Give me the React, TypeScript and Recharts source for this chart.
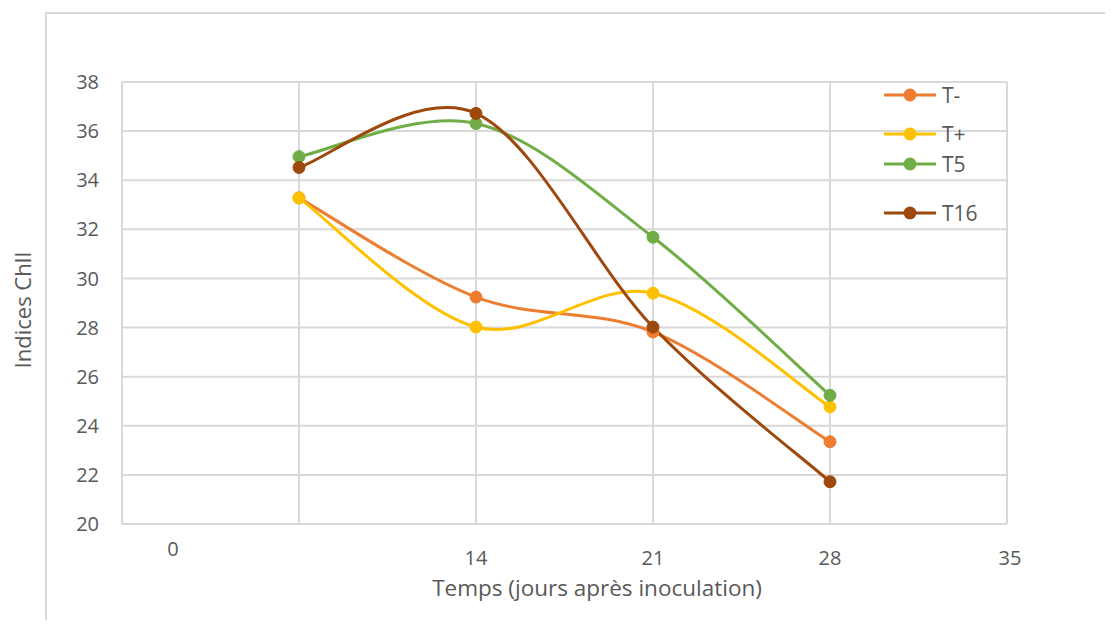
import React from 'react';
import { LineChart, Line, XAxis, YAxis, CartesianGrid } from 'recharts';

const days = [7, 14, 21, 28];
const tMinus = [33.28, 29.24, 27.82, 23.35];
const tPlus = [33.28, 28.02, 29.4, 24.77];
const t5 = [34.96, 36.31, 31.68, 25.24];
const t16 = [34.52, 36.72, 28.02, 21.72];

const xTicks = [0, 7, 14, 21, 28, 35];
const xTickLabels = ['0', '', '14', '21', '28', '35'];
const yTicks = [20, 22, 24, 26, 28, 30, 32, 34, 36, 38];

const seriesNames = ['T-', 'T+', 'T5', 'T16'];
const seriesKeys = ['tMinus', 'tPlus', 't5', 't16'];
const seriesColors = ['#ED7D31', '#FFC000', '#70AD47', '#9E480E'];

const data = days.map((d, i) => ({
  day: d,
  tMinus: tMinus[i],
  tPlus: tPlus[i],
  t5: t5[i],
  t16: t16[i],
}));

const FONT = '"Open Sans", sans-serif';
const TEXT = '#595959';
const GRID = '#d9d9d9';

// Excel-like smoothing (Catmull-Rom as cubic Bezier)
const excelCurve = (context: any) => {
  let pts: number[][] = [];
  return {
    areaStart() {},
    areaEnd() {},
    lineStart() {
      pts = [];
    },
    point(x: number, y: number) {
      pts.push([+x, +y]);
    },
    lineEnd() {
      if (!pts.length) return;
      context.moveTo(pts[0][0], pts[0][1]);
      for (let i = 0; i < pts.length - 1; i++) {
        const p0 = pts[i - 1] || pts[i];
        const p1 = pts[i];
        const p2 = pts[i + 1];
        const p3 = pts[i + 2] || p2;
        context.bezierCurveTo(
          p1[0] + (p2[0] - p0[0]) / 6,
          p1[1] + (p2[1] - p0[1]) / 6,
          p2[0] - (p3[0] - p1[0]) / 6,
          p2[1] - (p3[1] - p1[1]) / 6,
          p2[0],
          p2[1]
        );
      }
    },
  };
};

const XTick = (props: any) => {
  const { x, y, payload } = props;
  const idx = xTicks.indexOf(payload.value);
  const label = idx >= 0 ? xTickLabels[idx] : '';
  let dx = 0;
  let dy = 27;
  if (payload.value === 0) {
    dx = 51;
    dy = 18;
  }
  if (payload.value === 35) dx = 3;
  return (
    <text x={x + dx} y={y + dy} textAnchor="middle" dominantBaseline="central" fill={TEXT} fontSize={20} fontFamily={FONT}>
      {label}
    </text>
  );
};

const legendTops = [95, 134, 164, 213];

const LegendBox = () => (
  <div style={{ position: 'absolute', left: 883, top: 0, width: 130, height: 240 }}>
    {seriesNames.map((n, i) => (
      <div key={n} style={{ position: 'absolute', left: 0, top: legendTops[i] - 14, height: 28, display: 'flex', alignItems: 'center', whiteSpace: 'nowrap' }}>
        <svg width={54} height={28} style={{ display: 'block' }}>
          <line x1={1} y1={14} x2={53} y2={14} stroke={seriesColors[i]} strokeWidth={3} />
          <circle cx={27} cy={14} r={6.5} fill={seriesColors[i]} />
        </svg>
        <span style={{ marginLeft: 5, color: TEXT, fontFamily: FONT, fontSize: 21, lineHeight: '28px' }}>{n}</span>
      </div>
    ))}
  </div>
);

export default function App() {
  return (
    <div style={{ position: 'relative', width: 1113, height: 628, margin: -8, overflow: 'hidden', background: '#fff' }}>
      <div
        style={{
          position: 'absolute',
          left: 45,
          top: 12,
          width: 1200,
          height: 800,
          borderLeft: `2px solid ${GRID}`,
          borderTop: `2px solid ${GRID}`,
        }}
      />
      <div style={{ position: 'absolute', left: 0, top: 0 }}>
        <LineChart width={1113} height={628} data={data} margin={{ top: 82, right: 106, bottom: 64, left: 0 }}>
          <CartesianGrid stroke={GRID} strokeWidth={2} />
          <XAxis
            dataKey="day"
            type="number"
            domain={[0, 35]}
            ticks={xTicks}
            interval={0}
            height={40}
            axisLine={{ stroke: GRID, strokeWidth: 2 }}
            tickLine={false}
            tick={<XTick />}
            tickMargin={0}
            label={{
              content: () => (
                <text x={597} y={587} textAnchor="middle" dominantBaseline="central" fill={TEXT} fontSize={22.5} fontFamily={FONT}>
                  Temps (jours après inoculation)
                </text>
              ),
            }}
          />
          <YAxis
            type="number"
            domain={[20, 38]}
            ticks={yTicks}
            interval={0}
            width={122}
            axisLine={{ stroke: GRID, strokeWidth: 2 }}
            tickLine={false}
            tickMargin={17}
            tick={{ fill: TEXT, fontSize: 20, fontFamily: FONT }}
            label={{
              content: () => (
                <text
                  x={22}
                  y={310}
                  transform="rotate(-90 22 310)"
                  textAnchor="middle"
                  dominantBaseline="central"
                  fill={TEXT}
                  fontSize={22}
                  fontFamily={FONT}
                >
                  Indices ChlI
                </text>
              ),
            }}
          />
          {seriesKeys.map((k, i) => (
            <Line
              key={k}
              dataKey={k}
              name={seriesNames[i]}
              type={excelCurve as any}
              stroke={seriesColors[i]}
              strokeWidth={3}
              dot={{ r: 6, fill: seriesColors[i], stroke: seriesColors[i], strokeWidth: 1 }}
              isAnimationActive={false}
            />
          ))}
        </LineChart>
      </div>
      <LegendBox />
    </div>
  );
}
